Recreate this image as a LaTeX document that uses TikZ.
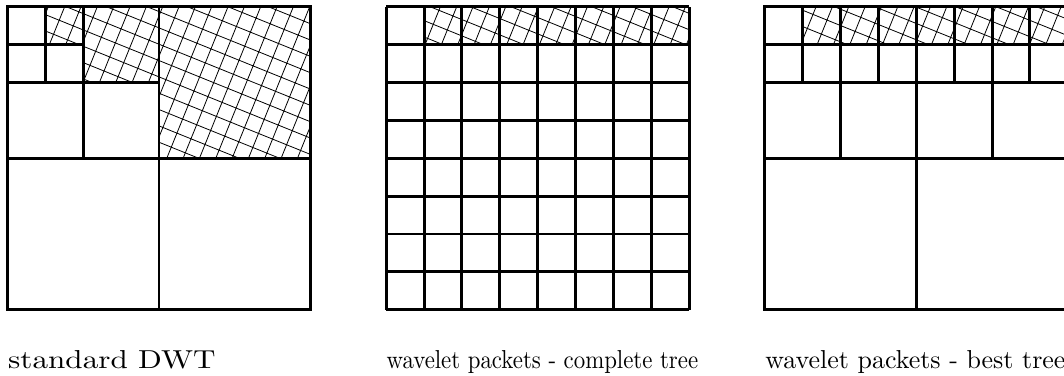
\documentclass[tikz,border=0pt]{standalone}
\usepackage{tikz}

\begin{document}
\begin{tikzpicture}[x=1cm,y=1cm,
    frame/.style={line width=2.2pt},
    hatchline/.style={line width=0.6pt},
    caption/.style={anchor=base west,inner sep=0pt,scale=1.95}]
  \useasboundingbox (-0.2,-1.74) rectangle (27.9,8.18);
  % Cross-hatched detail bands
  \begin{scope}
    \clip (1,7) rectangle (2,8) (2,6) rectangle (4,8) (4,4) rectangle (8,8)
      (11,7) rectangle (18,8) (21,7) rectangle (28,8);
    \draw[hatchline,rotate=-22] (-10,-20) grid[step=0.4] (40,20);
  \end{scope}
  % standard DWT
  \draw[frame] (0,0) rectangle (8,8);
  \draw[frame] (4,0) -- (4,8) (0,4) -- (8,4);
  \draw[frame] (2,4) -- (2,8) (0,6) -- (4,6);
  \draw[frame] (1,6) -- (1,8) (0,7) -- (2,7);
  % complete tree
  \draw[frame] (10,0) grid (18,8);
  % best tree
  \draw[frame] (20,0) rectangle (28,8);
  \draw[frame] (24,0) -- (24,8);
  \foreach \y in {4,6,7}
    \draw[frame] (20,\y) -- (28,\y);
  \foreach \x in {22,26}
    \draw[frame] (\x,4) -- (\x,8);
  \foreach \x in {21,23,25,27}
    \draw[frame] (\x,6) -- (\x,8);
  \node[caption,xscale=1.2] (dwt) at (0,-1.55) {standard DWT};
  \node[caption,xscale=0.88] (complete) at (10,-1.55) {wavelet packets - complete tree};
  \node[caption] (best) at (20,-1.55) {wavelet packets - best tree};
\end{tikzpicture}
\end{document}
